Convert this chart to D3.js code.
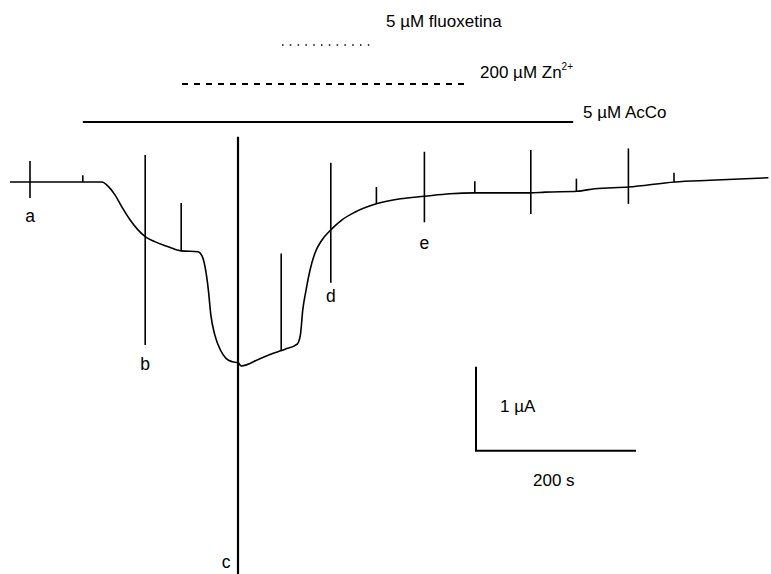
<!DOCTYPE html>
<html><head><meta charset="utf-8">
<script src="https://cdn.jsdelivr.net/npm/d3@7"></script>
<style>body{margin:0;background:#fff}svg{display:block}text{font-family:"Liberation Sans",Arial,sans-serif;fill:#000}</style>
</head><body>
<svg id="c" width="771" height="574"></svg>
<script>
// Trace (time in s, current in µA, baseline = 0)
const traceTime = [0,115,122.5,131,140,150,160,169,181,194,206,214,235,240,244,248,251,256,263,270,278,285,289,313,338,344,359,363,366,370,375,381,390,401,415,431,458,488,518,550,581,650,669,709,731,773,831,875,948];
const traceCurrent = [0,0,-0.05,-0.15,-0.30,-0.45,-0.57,-0.65,-0.71,-0.76,-0.80,-0.82,-0.83,-0.88,-1.02,-1.29,-1.58,-1.82,-2.00,-2.10,-2.14,-2.15,-2.19,-2.10,-2.01,-1.99,-1.93,-1.82,-1.52,-1.29,-1.05,-0.85,-0.69,-0.57,-0.45,-0.36,-0.26,-0.20,-0.17,-0.14,-0.13,-0.13,-0.12,-0.11,-0.08,-0.06,0,0.02,0.05];
// Transient spikes: time, top, bottom (µA)
const spikeTime   = [25,91,169,214,285,339,401,458,518,581,651,708,773,830];
const spikeTop    = [0.25,0.08,0.32,-0.25,0.54,-0.85,0.23,-0.06,0.36,0.01,0.38,0.04,0.40,0.11];
const spikeBottom = [-0.19,0,-1.94,-0.82,-4.68,-2.01,-1.20,-0.26,-0.48,-0.13,-0.38,-0.11,-0.26,0];
// Labelled points
const labelNames = ["a","b","c","d","e"];
const labelTime  = [25,169,285,401,518];
// Drug applications (start, end in s)
const drugNames = ["5 µM fluoxetina","200 µM Zn","5 µM AcCo"];
const drugStart = [340,215,91];
const drugEnd   = [450,575,704];
// Scale bar
const barTimeLen = 200, barCurLen = 1;

const svg = d3.select("#c");
const x = d3.scaleLinear().domain([0,948]).range([10,768.4]);
const y = d3.scaleLinear().domain([0,1]).range([182,98]);

const tr = traceTime.map((t,i)=>[t,traceCurrent[i]]);
svg.append("path").datum(tr)
  .attr("d", d3.line().x(d=>x(d[0])).y(d=>y(d[1])).curve(d3.curveMonotoneX))
  .attr("fill","none").attr("stroke","#000").attr("stroke-width",1.6);

svg.selectAll("line.sp").data(spikeTime).join("line").attr("class","sp")
  .attr("x1",d=>x(d)).attr("x2",d=>x(d))
  .attr("y1",(d,i)=>y(spikeTop[i])).attr("y2",(d,i)=>y(spikeBottom[i]))
  .attr("stroke","#000").attr("stroke-width",(d,i)=> i===4?2.2:1.6);

// labels below spikes
const labelOffsets = [24,25,-7,19,27];
labelNames.forEach((n,i)=>{
  const si = spikeTime.indexOf(labelTime[i]);
  let yy = y(spikeBottom[si]) + labelOffsets[i];
  let xx = x(labelTime[i]) + (n==="c"? -12 : 0);
  svg.append("text").attr("x",xx).attr("y",yy).attr("text-anchor","middle")
    .attr("font-size",17.5).text(n);
});

// drug bars
const barY = [45,84,122];
const dashes = ["1.5,6.3","6,6",null];
drugNames.forEach((n,i)=>{
  const l = svg.append("line").attr("x1",x(drugStart[i])).attr("x2",x(drugEnd[i]))
    .attr("y1",barY[i]).attr("y2",barY[i]).attr("stroke","#000").attr("stroke-width",i===0?1.6:2);
  if(dashes[i]) l.attr("stroke-dasharray",dashes[i]);
});
svg.append("text").attr("x",386).attr("y",27).attr("font-size",17).text(drugNames[0]);
const zt = svg.append("text").attr("x",480).attr("y",78).attr("font-size",17).text(drugNames[1]);
zt.append("tspan").attr("font-size",10).attr("dy",-8).text("2+");
svg.append("text").attr("x",583).attr("y",118).attr("font-size",17).text(drugNames[2]);

// scale bar
const sx0 = x(582.5), sy0 = y(-3.2);
svg.append("path").attr("d",`M${sx0},${y(-3.2+barCurLen)}V${sy0}H${x(582.5+barTimeLen)}`)
  .attr("fill","none").attr("stroke","#000").attr("stroke-width",2);
svg.append("text").attr("x",500).attr("y",412).attr("font-size",17).text("1 µA");
svg.append("text").attr("x",533).attr("y",486).attr("font-size",17).text(barTimeLen+" s");
</script>
</body></html>
